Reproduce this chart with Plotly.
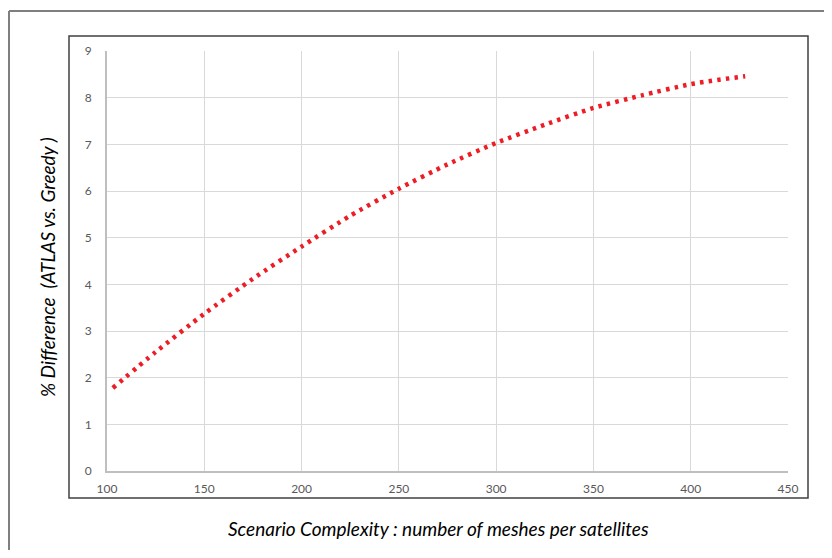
import plotly.graph_objects as go

# Data
complexity = [103, 125, 150, 175, 200, 225, 250, 275, 300, 325, 350, 375, 400, 428]
pct_diff = [1.78, 2.55, 3.37, 4.12, 4.81, 5.47, 6.05, 6.57, 7.03, 7.42, 7.78, 8.05, 8.29, 8.46]

x_ticks = [100, 150, 200, 250, 300, 350, 400, 450]
y_ticks = [0, 1, 2, 3, 4, 5, 6, 7, 8, 9]

x_title = "Scenario Complexity : number of meshes per satellites"
y_title = "% Difference  (ATLAS vs. Greedy )"

# page has an 8px body margin on every side; figure sized to fit the window
OFF = 8
W, H = 832 - 2 * OFF, 558 - 2 * OFF
L, T = 107 - OFF, 51 - OFF
PW, PH = 681, 420
R, B = W - L - PW, H - T - PH

def px(x):
    return (x - OFF - L) / PW

def py(y):
    return (T + PH - (y - OFF)) / PH

fig = go.Figure()
fig.add_trace(go.Scatter(
    x=complexity, y=pct_diff, mode="lines",
    line=dict(color="#ee1c25", width=4.5, dash="3.5px,5.2px", shape="spline", smoothing=0.6),
    showlegend=False, hoverinfo="skip",
))

tick_font = dict(family="Lato, 'Noto Sans', sans-serif", size=12, color="#595959")
fig.update_xaxes(
    range=[100, 450], tickvals=x_ticks, ticks="", showgrid=True,
    gridcolor="#d9d9d9", gridwidth=1, showline=True, linecolor="#bfbfbf", linewidth=2,
    zeroline=False, tickfont=tick_font, ticklabelstandoff=6,
)
fig.update_yaxes(
    range=[0, 9], tickvals=y_ticks, ticks="", showgrid=True,
    gridcolor="#d9d9d9", gridwidth=1, showline=True, linecolor="#bfbfbf", linewidth=2,
    zeroline=False, tickfont=tick_font, ticklabelstandoff=11,
)

frame_line = dict(color="#7f7f7f", width=2)
shapes = [
    # outer frame: only top and left edges are inside the picture
    dict(type="line", xref="paper", yref="paper",
         x0=px(9), x1=px(824), y0=py(11), y1=py(11), line=frame_line, layer="below"),
    dict(type="line", xref="paper", yref="paper",
         x0=px(9), x1=px(9), y0=py(11), y1=py(550), line=frame_line, layer="below"),
    # inner chart frame
    dict(type="rect", xref="paper", yref="paper",
         x0=px(69), x1=px(808), y0=py(498), y1=py(36),
         line=dict(color="#404040", width=1.5), fillcolor="rgba(0,0,0,0)", layer="below"),
]

title_font = dict(family="Lato, 'Noto Sans', sans-serif", size=19, color="#000000", style="italic")
annotations = [
    dict(text=x_title, xref="paper", yref="paper", x=px(438.5), y=py(528),
         showarrow=False, font=title_font, xanchor="center", yanchor="middle"),
    dict(text=y_title, xref="paper", yref="paper", x=px(47), y=py(267),
         showarrow=False, font=title_font, textangle=-90, xanchor="center", yanchor="middle"),
]

fig.update_layout(
    width=W, height=H,
    margin=dict(l=L, r=R, t=T, b=B),
    paper_bgcolor="white", plot_bgcolor="white",
    shapes=shapes, annotations=annotations,
)

fig.write_html("out.html")
